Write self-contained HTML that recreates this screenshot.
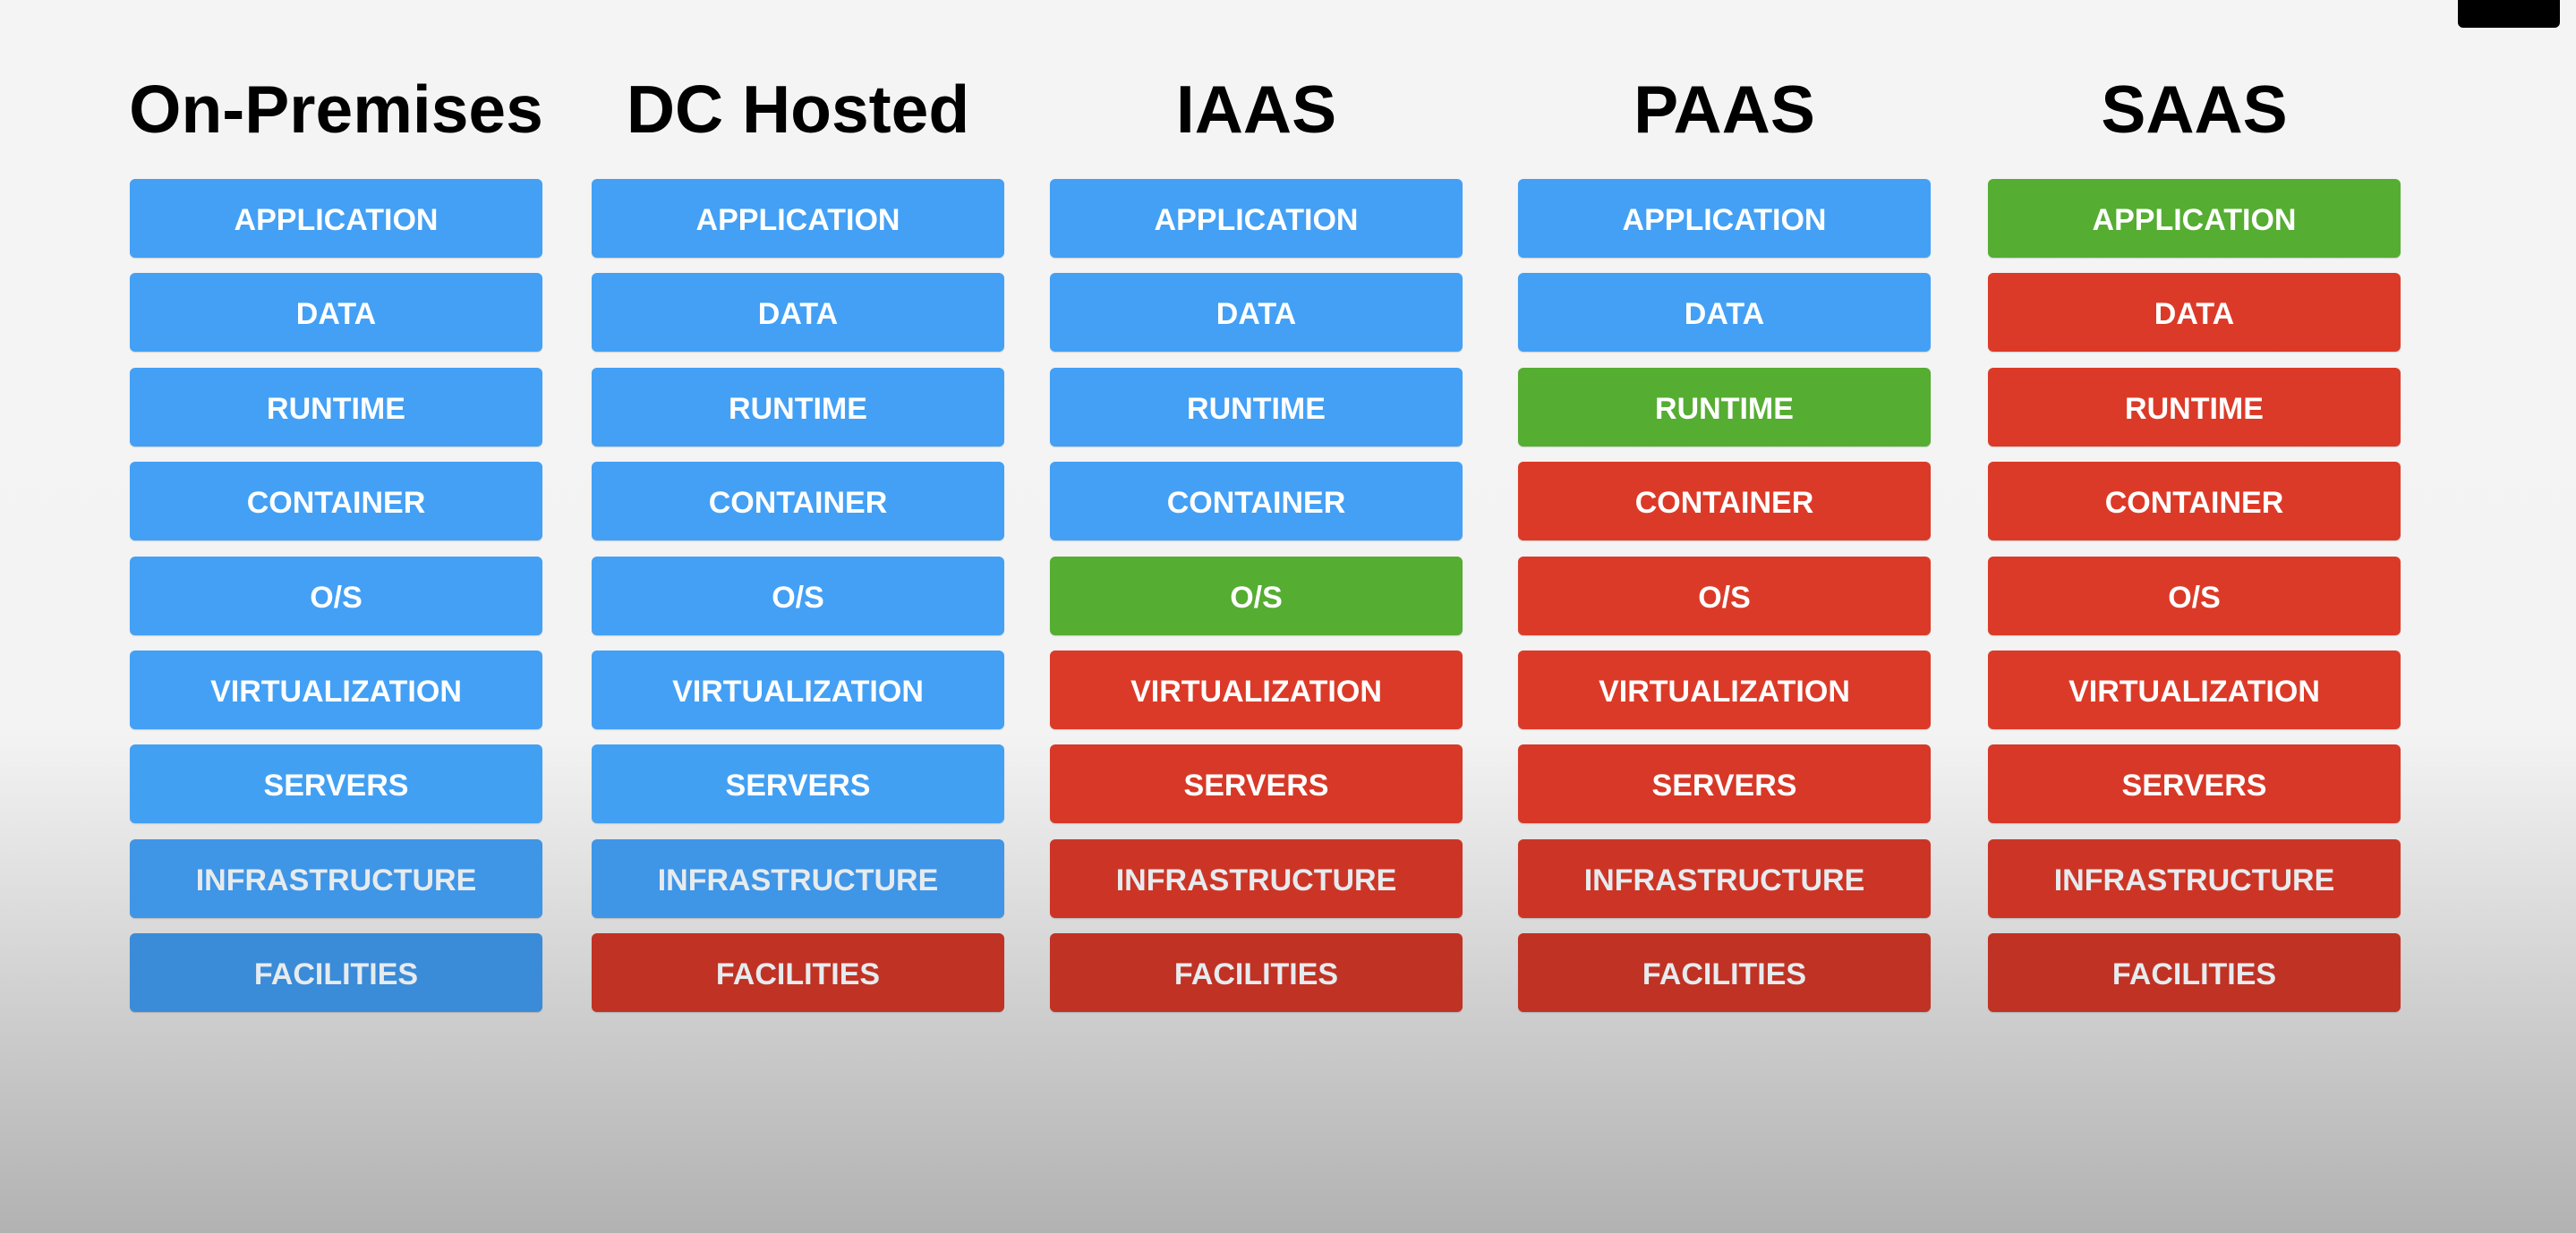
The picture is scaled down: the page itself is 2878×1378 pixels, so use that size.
<!DOCTYPE html>
<html><head><meta charset="utf-8"><style>
html,body{margin:0;padding:0}
body{width:2878px;height:1378px;position:relative;overflow:hidden;
background:linear-gradient(to bottom,#f4f4f4 0px,#f3f3f3 820px,#dedede 1000px,#c8c8c8 1180px,#b2b2b2 1378px);
font-family:"Liberation Sans",sans-serif}
.t{position:absolute;top:72px;width:661px;margin-left:-100px;text-align:center;font-weight:bold;font-size:75px;color:#000;letter-spacing:0px;line-height:100px;white-space:nowrap}
.b{position:absolute;width:461px;height:88px;border-radius:6px;color:#fff;font-weight:bold;font-size:34px;text-align:center;line-height:92px;box-shadow:0 1px 1px rgba(0,0,0,.15);white-space:nowrap}
.blk{position:absolute;left:2746px;top:0;width:114px;height:31px;background:#000;border-radius:0 0 6px 6px}
</style></head><body>
<div class="blk"></div>
<div id="c"></div>
<script>
var cols=[145,661,1173,1696,2221];
var titles=["On-Premises","DC Hosted","IAAS","PAAS","SAAS"];
var labels=["APPLICATION","DATA","RUNTIME","CONTAINER","O/S","VIRTUALIZATION","SERVERS","INFRASTRUCTURE","FACILITIES"];
var colors=["BBBBBBBBB","BBBBBBBBR","BBBBGRRRR","BBGRRRRRR","GRRRRRRRR"];
var shade={B:["#43a0f5","#43a0f5","#43a0f5","#43a0f5","#43a0f5","#43a0f5","#42a0f3","#3f95e6","#3a8bd8"],
R:["#dc3a28","#dc3a28","#dc3a28","#dc3a28","#dc3a28","#dc3a28","#d83827","#cc3526","#c03224"],
G:["#55ad32","#55ad32","#55ad32","#55ad32","#55ad32","#55ad32","#55ad32","#50a22f","#4b982c"]};
var h="";
for(var c=0;c<5;c++){
 h+='<div class="t" style="left:'+cols[c]+'px">'+titles[c]+'</div>';
 for(var r=0;r<9;r++){
  var k=colors[c][r];
  var tc=r>=7?"#e6ebee":"#fff";
  h+='<div class="b" style="left:'+cols[c]+'px;top:'+Math.round(200+r*105.4)+'px;background:'+shade[k][r]+';color:'+tc+'">'+labels[r]+'</div>';
 }
}
document.getElementById("c").innerHTML=h;
</script>
</body></html>
